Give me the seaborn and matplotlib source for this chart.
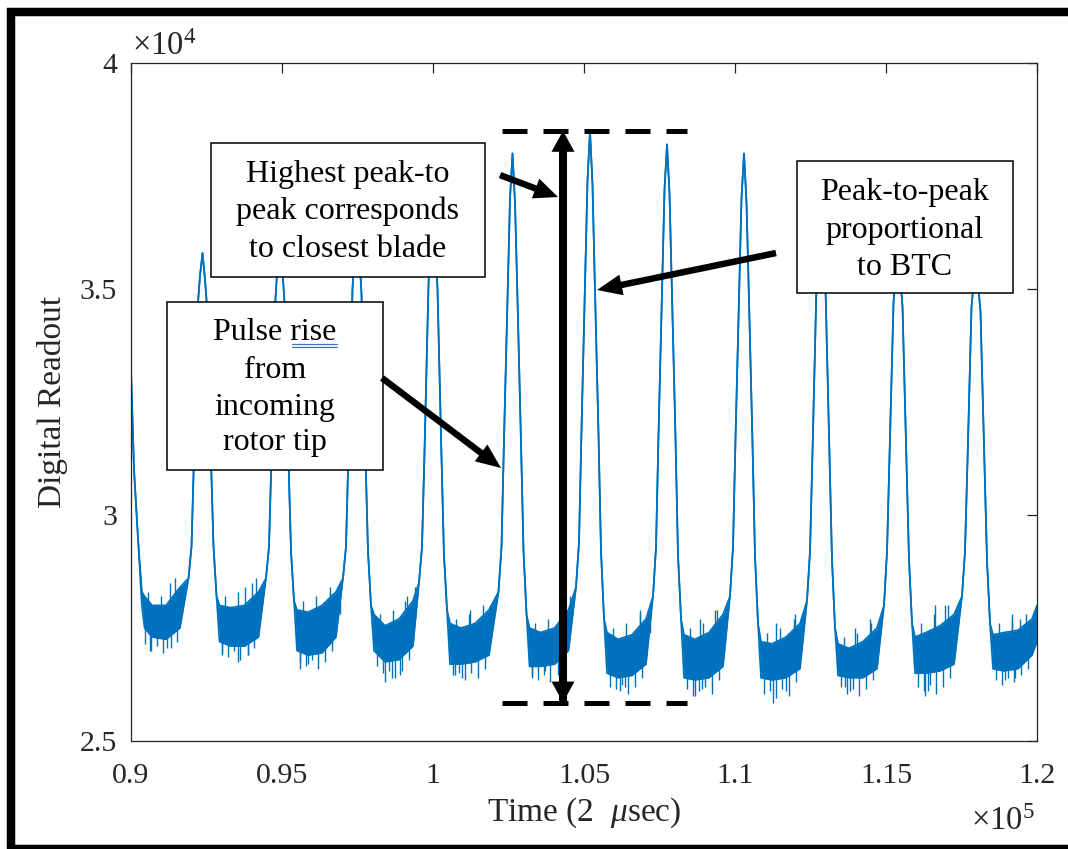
import matplotlib
matplotlib.use("Agg")
import matplotlib.pyplot as plt
import seaborn as sns
from matplotlib.patches import Rectangle, FancyArrow
from matplotlib.lines import Line2D
from matplotlib.transforms import IdentityTransform

# ---------------- data (time in units of 1e5, readout in units of 1e4) ----------------
time = [
    0.9000, 0.9010, 0.9023, 0.9036, 0.9045, 0.9070, 0.9116, 0.9162,
    0.91904, 0.92004, 0.92087, 0.92219, 0.92285, 0.92368, 0.92451, 0.92517, 0.92649, 0.92732, 0.92832, 0.92931, 0.93295, 0.93759, 0.94222,
    0.94470, 0.94570, 0.94653, 0.94785, 0.94851, 0.94934, 0.95017, 0.95083, 0.95215, 0.95298, 0.95398, 0.95497, 0.95861, 0.96325, 0.96788,
    0.97019, 0.97119, 0.97202, 0.97334, 0.97400, 0.97483, 0.97566, 0.97632, 0.97764, 0.97847, 0.97947, 0.98046, 0.98410, 0.98874, 0.99337,
    0.99536, 0.99636, 0.99719, 0.99851, 0.99917, 1.00000, 1.00083, 1.00149, 1.00281, 1.00364, 1.00464, 1.00563, 1.00927, 1.01391, 1.01854,
    1.02169, 1.02269, 1.02352, 1.02484, 1.02550, 1.02633, 1.02716, 1.02782, 1.02914, 1.02997, 1.03097, 1.03196, 1.03560, 1.04024, 1.04487,
    1.04735, 1.04835, 1.04918, 1.05050, 1.05116, 1.05199, 1.05282, 1.05348, 1.05480, 1.05563, 1.05663, 1.05762, 1.06126, 1.06590, 1.07053,
    1.07285, 1.07385, 1.07468, 1.07600, 1.07666, 1.07749, 1.07832, 1.07898, 1.08030, 1.08113, 1.08213, 1.08312, 1.08676, 1.09140, 1.09603,
    1.09834, 1.09934, 1.10017, 1.10149, 1.10215, 1.10298, 1.10381, 1.10447, 1.10579, 1.10662, 1.10762, 1.10861, 1.11225, 1.11689, 1.12152,
    1.12384, 1.12484, 1.12567, 1.12699, 1.12765, 1.12848, 1.12931, 1.12997, 1.13129, 1.13212, 1.13312, 1.13411, 1.13775, 1.14239, 1.14702,
    1.14934, 1.15034, 1.15117, 1.15249, 1.15315, 1.15398, 1.15481, 1.15547, 1.15679, 1.15762, 1.15862, 1.15961, 1.16325, 1.16789, 1.17252,
    1.17516, 1.17616, 1.17699, 1.17831, 1.17897, 1.17980, 1.18063, 1.18129, 1.18261, 1.18344, 1.18444, 1.18543, 1.18907, 1.19371, 1.19834, 1.20000,
]
readout_upper = [
    3.32, 3.10, 2.95, 2.83, 2.82, 2.80, 2.80, 2.84,
    2.86, 2.93, 3.13, 3.47, 3.53, 3.58, 3.52, 3.46, 3.12, 2.93, 2.82, 2.80, 2.795, 2.80, 2.83,
    2.86, 2.93, 3.13, 3.48, 3.55, 3.61, 3.54, 3.47, 3.12, 2.92, 2.81, 2.79, 2.785, 2.80, 2.83,
    2.86, 2.93, 3.14, 3.50, 3.58, 3.65, 3.57, 3.49, 3.13, 2.92, 2.80, 2.78, 2.755, 2.77, 2.81,
    2.85, 2.93, 3.14, 3.51, 3.60, 3.68, 3.59, 3.50, 3.13, 2.91, 2.79, 2.76, 2.75, 2.76, 2.79,
    2.83, 2.93, 3.17, 3.53, 3.70, 3.80, 3.69, 3.52, 3.16, 2.92, 2.78, 2.75, 2.74, 2.75, 2.79,
    2.84, 2.94, 3.19, 3.55, 3.74, 3.85, 3.73, 3.54, 3.18, 2.92, 2.77, 2.74, 2.725, 2.735, 2.77,
    2.82, 2.93, 3.18, 3.54, 3.72, 3.82, 3.71, 3.53, 3.17, 2.91, 2.77, 2.735, 2.725, 2.74, 2.78,
    2.82, 2.93, 3.17, 3.53, 3.70, 3.80, 3.69, 3.52, 3.16, 2.91, 2.76, 2.72, 2.715, 2.73, 2.76,
    2.81, 2.92, 3.14, 3.51, 3.60, 3.68, 3.59, 3.50, 3.13, 2.90, 2.75, 2.715, 2.705, 2.72, 2.75,
    2.80, 2.92, 3.13, 3.47, 3.53, 3.58, 3.52, 3.46, 3.12, 2.90, 2.76, 2.73, 2.74, 2.755, 2.78,
    2.82, 2.92, 3.12, 3.46, 3.51, 3.55, 3.50, 3.45, 3.11, 2.90, 2.76, 2.735, 2.74, 2.745, 2.77, 2.80,
]
readout_lower = [
    3.32, 3.10, 2.95, 2.80, 2.75, 2.73, 2.725, 2.75,
    2.86, 2.93, 3.13, 3.47, 3.53, 3.58, 3.52, 3.46, 3.12, 2.93, 2.82, 2.72, 2.71, 2.71, 2.73,
    2.86, 2.93, 3.13, 3.48, 3.55, 3.61, 3.54, 3.47, 3.12, 2.92, 2.81, 2.70, 2.69, 2.695, 2.73,
    2.86, 2.93, 3.14, 3.50, 3.58, 3.65, 3.57, 3.49, 3.13, 2.92, 2.80, 2.70, 2.675, 2.68, 2.71,
    2.85, 2.93, 3.14, 3.51, 3.60, 3.68, 3.59, 3.50, 3.13, 2.91, 2.79, 2.67, 2.67, 2.675, 2.69,
    2.83, 2.93, 3.17, 3.53, 3.70, 3.80, 3.69, 3.52, 3.16, 2.92, 2.78, 2.665, 2.665, 2.67, 2.70,
    2.84, 2.94, 3.19, 3.55, 3.74, 3.85, 3.73, 3.54, 3.18, 2.92, 2.77, 2.65, 2.64, 2.645, 2.67,
    2.82, 2.93, 3.18, 3.54, 3.72, 3.82, 3.71, 3.53, 3.17, 2.91, 2.77, 2.64, 2.635, 2.64, 2.665,
    2.82, 2.93, 3.17, 3.53, 3.70, 3.80, 3.69, 3.52, 3.16, 2.91, 2.76, 2.64, 2.635, 2.64, 2.66,
    2.81, 2.92, 3.14, 3.51, 3.60, 3.68, 3.59, 3.50, 3.13, 2.90, 2.75, 2.645, 2.64, 2.64, 2.66,
    2.80, 2.92, 3.13, 3.47, 3.53, 3.58, 3.52, 3.46, 3.12, 2.90, 2.76, 2.65, 2.65, 2.655, 2.67,
    2.82, 2.92, 3.12, 3.46, 3.51, 3.55, 3.50, 3.45, 3.11, 2.90, 2.76, 2.66, 2.655, 2.66, 2.69, 2.72,
]

# downward noise spikes on the baseline band (time, spike bottom, spike top)
spike_down_time = [
    0.90458, 0.90629, 0.90658, 0.90858, 0.91058, 0.91192, 0.91308, 0.91528,
    0.93013, 0.93018, 0.93218, 0.93418, 0.93543, 0.93618, 0.93868, 0.93874, 0.94088,
    0.95584, 0.95596, 0.95784, 0.95861, 0.95984, 0.96184, 0.96434, 0.96654,
    0.98133, 0.98333, 0.98411, 0.98533, 0.98643, 0.98733, 0.98907, 0.98983, 0.99203,
    1.00650, 1.00729, 1.00850, 1.00960, 1.01050, 1.01250, 1.01500, 1.01720,
    1.03278, 1.03283, 1.03483, 1.03683, 1.03709, 1.03883, 1.04133, 1.04353,
    1.05849, 1.06049, 1.06192, 1.06249, 1.06358, 1.06449, 1.06699, 1.06919,
    1.08399, 1.08599, 1.08676, 1.08799, 1.08907, 1.08999, 1.09249, 1.09469,
    1.10948, 1.11148, 1.11259, 1.11348, 1.11548, 1.11689, 1.11798, 1.12018,
    1.13498, 1.13643, 1.13698, 1.13808, 1.13898, 1.14098, 1.14348, 1.14568,
    1.16048, 1.16248, 1.16291, 1.16391, 1.16448, 1.16648, 1.16898, 1.17118,
    1.18630, 1.18830, 1.18941, 1.19030, 1.19230, 1.19272, 1.19480, 1.19700,
]
spike_down_low = [
    2.715, 2.700, 2.700, 2.710, 2.695, 2.705, 2.705, 2.720,
    2.690, 2.695, 2.685, 2.700, 2.675, 2.680, 2.690, 2.690, 2.705,
    2.675, 2.660, 2.665, 2.670, 2.680, 2.660, 2.675, 2.700,
    2.665, 2.650, 2.630, 2.655, 2.640, 2.640, 2.645, 2.655, 2.680,
    2.645, 2.645, 2.650, 2.640, 2.635, 2.650, 2.640, 2.660,
    2.645, 2.640, 2.635, 2.645, 2.655, 2.630, 2.645, 2.665,
    2.620, 2.615, 2.610, 2.625, 2.620, 2.605, 2.620, 2.640,
    2.615, 2.600, 2.600, 2.610, 2.615, 2.620, 2.605, 2.635,
    2.605, 2.610, 2.585, 2.595, 2.615, 2.610, 2.600, 2.630,
    2.620, 2.620, 2.605, 2.610, 2.615, 2.600, 2.615, 2.635,
    2.620, 2.610, 2.600, 2.610, 2.625, 2.605, 2.620, 2.640,
    2.635, 2.625, 2.635, 2.640, 2.630, 2.640, 2.645, 2.660,
]
spike_down_high = [
    2.770, 2.760, 2.760, 2.755, 2.750, 2.755, 2.760, 2.770,
    2.750, 2.750, 2.740, 2.740, 2.740, 2.740, 2.740, 2.740, 2.760,
    2.730, 2.730, 2.720, 2.720, 2.720, 2.720, 2.730, 2.750,
    2.720, 2.700, 2.700, 2.700, 2.700, 2.710, 2.710, 2.710, 2.730,
    2.700, 2.700, 2.700, 2.700, 2.700, 2.700, 2.710, 2.720,
    2.690, 2.690, 2.690, 2.690, 2.700, 2.700, 2.700, 2.720,
    2.680, 2.670, 2.670, 2.670, 2.670, 2.670, 2.680, 2.700,
    2.670, 2.665, 2.665, 2.665, 2.665, 2.670, 2.670, 2.690,
    2.670, 2.665, 2.665, 2.665, 2.670, 2.670, 2.670, 2.690,
    2.670, 2.670, 2.670, 2.670, 2.670, 2.670, 2.670, 2.690,
    2.680, 2.680, 2.680, 2.680, 2.680, 2.680, 2.685, 2.700,
    2.690, 2.685, 2.685, 2.685, 2.690, 2.690, 2.690, 2.710,
]

# upward noise spikes on the baseline band
spike_up_time = [
    0.90558, 0.90988, 0.91291, 0.91458,
    0.93118, 0.93548, 0.93775, 0.94018, 0.94139,
    0.95684, 0.96114, 0.96584, 0.96589, 0.96921,
    0.98233, 0.98663, 0.99073, 0.99133, 0.99404,
    1.00750, 1.01180, 1.01225, 1.01650, 1.01888,
    1.03383, 1.03813, 1.04206, 1.04283, 1.04537,
    1.05949, 1.06379, 1.06849, 1.06855, 1.07186,
    1.08499, 1.08841, 1.08929, 1.09338, 1.09399,
    1.11048, 1.11358, 1.11478, 1.11948, 1.11987,
    1.13598, 1.13974, 1.14028, 1.14471, 1.14498,
    1.16148, 1.16578, 1.16623, 1.16954, 1.17048,
    1.18730, 1.19160, 1.19173, 1.19437, 1.19630,
]
spike_up_low = [
    2.78, 2.77, 2.78, 2.80,
    2.77, 2.77, 2.77, 2.79, 2.79,
    2.76, 2.76, 2.78, 2.77, 2.78,
    2.73, 2.74, 2.75, 2.76, 2.77,
    2.72, 2.73, 2.74, 2.75, 2.76,
    2.71, 2.72, 2.74, 2.74, 2.76,
    2.70, 2.70, 2.72, 2.72, 2.74,
    2.70, 2.71, 2.71, 2.73, 2.73,
    2.69, 2.70, 2.70, 2.72, 2.71,
    2.68, 2.69, 2.69, 2.71, 2.71,
    2.71, 2.72, 2.74, 2.75, 2.74,
    2.71, 2.72, 2.73, 2.72, 2.73,
]
spike_up_high = [
    2.83, 2.82, 2.85, 2.86,
    2.82, 2.83, 2.84, 2.85, 2.86,
    2.81, 2.82, 2.84, 2.83, 2.85,
    2.78, 2.79, 2.81, 2.82, 2.84,
    2.77, 2.78, 2.79, 2.80, 2.80,
    2.76, 2.77, 2.79, 2.80, 2.82,
    2.75, 2.76, 2.78, 2.79, 2.80,
    2.75, 2.77, 2.76, 2.79, 2.79,
    2.74, 2.76, 2.75, 2.77, 2.78,
    2.73, 2.75, 2.74, 2.77, 2.76,
    2.76, 2.78, 2.80, 2.80, 2.80,
    2.76, 2.77, 2.78, 2.77, 2.78,
]

x_ticks = [0.9, 0.95, 1.0, 1.05, 1.1, 1.15, 1.2]
x_tick_labels = ["0.9", "0.95", "1", "1.05", "1.1", "1.15", "1.2"]
y_ticks = [2.5, 3.0, 3.5, 4.0]
y_tick_labels = ["2.5", "3", "3.5", "4"]

# ---------------- styling ----------------
sns.set_theme(style="white")
plt.rcParams["font.family"] = ["Liberation Serif", "DejaVu Serif"]
plt.rcParams["mathtext.fontset"] = "custom"
plt.rcParams["mathtext.rm"] = "Liberation Serif"
plt.rcParams["mathtext.it"] = "Liberation Serif:italic"
plt.rcParams["mathtext.bf"] = "Liberation Serif:bold"

BLUE = "#0072BD"
AX_COL = "#262626"

W, H = 1068, 849
fig = plt.figure(figsize=(W / 100, H / 100), dpi=100)
fig.patch.set_facecolor("white")
ax = fig.add_axes([131 / W, 108 / H, 906 / W, 678 / H])

# signal
ax.fill_between(time, readout_lower, readout_upper, color=BLUE, lw=0, zorder=2)
sns.lineplot(x=time, y=readout_upper, estimator=None, sort=False, color=BLUE, lw=1.25, ax=ax, zorder=2)
sns.lineplot(x=time, y=readout_lower, estimator=None, sort=False, color=BLUE, lw=1.25, ax=ax, zorder=2)
ax.vlines(spike_down_time, spike_down_low, spike_down_high, color=BLUE, lw=1.0, zorder=2)
ax.vlines(spike_up_time, spike_up_low, spike_up_high, color=BLUE, lw=1.0, zorder=2)

ax.set_xlim(0.9, 1.2)
ax.set_ylim(2.5, 4.0)
ax.set_xticks(x_ticks)
ax.set_xticklabels(x_tick_labels)
ax.set_yticks(y_ticks)
ax.set_yticklabels(y_tick_labels)
ax.set_xlabel("")
ax.set_ylabel("")
ax.grid(False)
ax.tick_params(axis="both", direction="in", length=7.2, width=0.9, colors=AX_COL,
               labelsize=21.5, top=True, right=True)
ax.tick_params(axis="x", pad=16)
ax.tick_params(axis="y", pad=10)
for s in ax.spines.values():
    s.set_color(AX_COL)
    s.set_linewidth(0.9)
    s.set_visible(True)

# axis labels and exponents
ax.text(0.5, -0.118, r"Time (2  $\mu$sec)", transform=ax.transAxes, ha="center",
        va="baseline", fontsize=24, color=AX_COL)
ax.text(-0.087, 0.5, "Digital Readout", transform=ax.transAxes, ha="center",
        va="center", rotation=90, fontsize=24, color=AX_COL)
ax.text(0.001, 1.012, r"$\times 10^{4}$", transform=ax.transAxes, ha="left",
        va="baseline", fontsize=23.5, color=AX_COL)
ax.text(0.998, -0.131, r"$\times 10^{5}$", transform=ax.transAxes, ha="right",
        va="baseline", fontsize=23.5, color=AX_COL)

# ---------------- annotations ----------------
top_level = max(readout_upper)
bottom_level = min(spike_down_low)
dash_x = [1.0229, 1.0841]
for lev in (top_level, bottom_level):
    ln = Line2D(dash_x, [lev, lev], color="black", lw=3.6, linestyle=(0, (5, 3.2)),
                dash_capstyle="butt", zorder=6, transform=ax.transData)
    ln.set_clip_on(False)
    ax.add_line(ln)


def arrow(p0, p1, width, head_w, head_l):
    (x0, y0), (x1, y1) = ax.transData.transform([p0, p1])
    a = FancyArrow(x0, y0, x1 - x0, y1 - y0, width=width, head_width=head_w,
                   head_length=head_l, length_includes_head=True, color="black",
                   lw=0, transform=IdentityTransform(), zorder=7)
    fig.add_artist(a)


arrow_x = 1.04305
mid = (top_level + bottom_level) / 2
arrow((arrow_x, bottom_level), (arrow_x, top_level), 8, 23, 21)
arrow((arrow_x, mid), (arrow_x, bottom_level), 8, 23, 21)
arrow((1.0222, 3.752), (1.0414, 3.7035), 6.5, 21, 24)
arrow((1.11358, 3.5796), (1.05431, 3.4978), 6.5, 21, 25)
arrow((0.98311, 3.3031), (1.02252, 3.104), 6.5, 21, 25)

boxes = [
    ((0.0883, 0.6844), 0.3907 - 0.0883, 0.8820 - 0.6844),
    ((0.0397, 0.3997), 0.2781 - 0.0397, 0.6475 - 0.3997),
    ((0.7351, 0.6608), 0.9735 - 0.7351, 0.8555 - 0.6608),
]
for (xy, w, h) in boxes:
    ax.add_patch(Rectangle(xy, w, h, transform=ax.transAxes, facecolor="white",
                           edgecolor="black", lw=1.1, zorder=8, clip_on=False))

box_texts = [
    (0.2395, [0.8245, 0.7699, 0.7139], ["Highest peak-to", "peak corresponds", "to closest blade"]),
    (0.1589, [0.5914, 0.5354, 0.4808, 0.4292], ["Pulse rise", "from", "incoming", "rotor tip"]),
    (0.8543, [0.7979, 0.7419, 0.6873], ["Peak-to-peak", "proportional", "to BTC"]),
]
for cx, ys, lines in box_texts:
    for yy, s in zip(ys, lines):
        ax.text(cx, yy, s, transform=ax.transAxes, ha="center", va="baseline",
                fontsize=23, color="black", zorder=9)

# spell-check style double underline below "rise"
for yy in (0.5852, 0.5815):
    ul = Line2D([0.1777, 0.2274], [yy, yy], transform=ax.transAxes, color="#4472C4",
                lw=0.9, zorder=9)
    ul.set_clip_on(False)
    ax.add_line(ul)

# thick black frame around the figure (right side lies outside the picture)
fig.add_artist(Rectangle((11 / W, 0.0), (1085 - 11) / W, 1 - 12 / H,
                         transform=fig.transFigure, facecolor="none",
                         edgecolor="black", lw=6.1, clip_on=False, zorder=20))

fig.savefig("out.png", dpi=100)
